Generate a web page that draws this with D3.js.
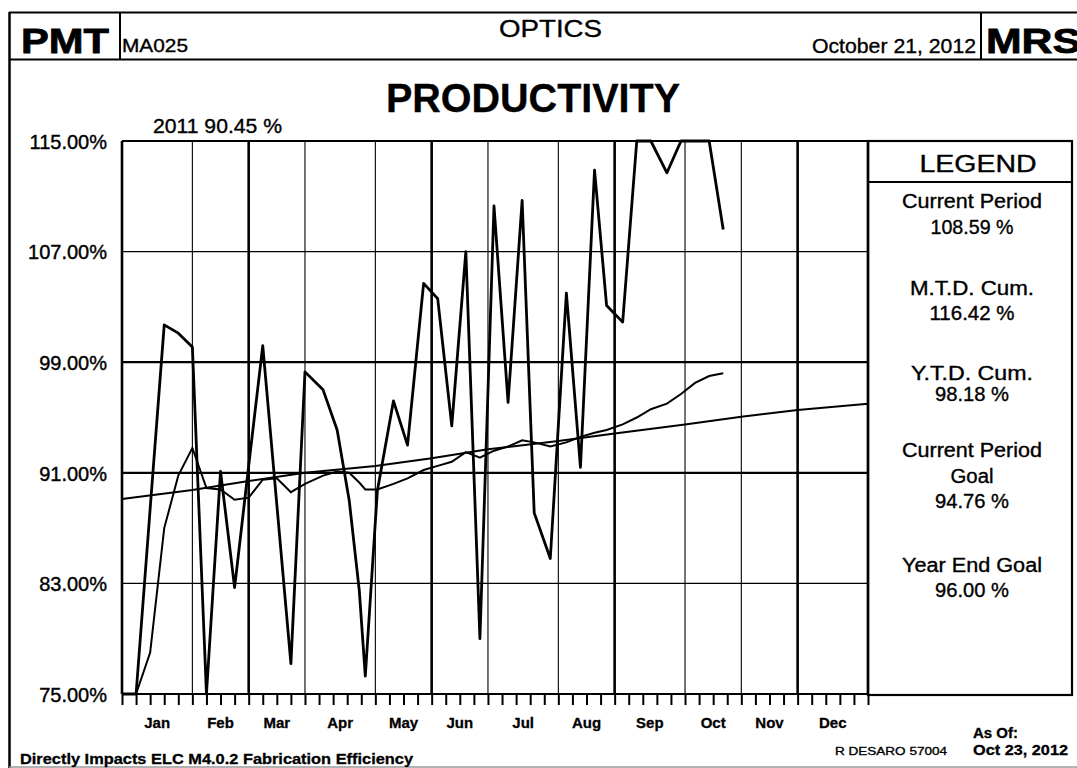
<!DOCTYPE html>
<html><head><meta charset="utf-8">
<script src="https://cdn.jsdelivr.net/npm/d3@7"></script>
<style>
body{margin:0;background:#fff}
svg{display:block}
text{font-family:"Liberation Sans",Arial,Helvetica,sans-serif;fill:#000}
</style>
</head><body>
<svg id="c" width="1077" height="768"></svg>
<script>
// ---------- DATA ----------
const monthLabels = ["Jan","Feb","Mar","Apr","May","Jun","Jul","Aug","Sep","Oct","Nov","Dec"];
// fiscal-day boundaries of each fiscal month (53 fiscal weeks)
const monthEndDays = [0,35,63,91,126,154,182,217,245,280,308,336,371];
const heavyBoundaries = [0,2,5,8,11,12];
const yTicks = [75,83,91,99,107,115];
const heavyY = [75,91,99];

// weekly actual productivity (fiscal day, %)
const actualDays = [0,7,14,21,28,35,42,49,56,63,70,77,84,91,100,107,113,118,121,127,
  135,142,150,157,164,171,178,185,192,199,205,213,221,228,235,241,249,256,263,271,
  278,285,292,299];
const actualValues = [75,75,88.4,101.7,101.1,100.1,75,91.1,82.7,91.5,
  100.2,88.7,77.2,98.3,97.0,94.1,89.0,82.5,76.3,89.7,
  96.2,93.0,104.7,103.6,94.4,107.0,79.0,110.3,96.1,110.7,
  88.1,84.8,104.0,91.4,112.9,103.1,101.9,115,115,112.7,
  115,115,115,108.6];
// year-to-date cumulative (same days)
const ytdValues = [null,75,78.0,87.0,90.8,92.8,89.9,89.8,89.05,89.2,
  90.5,90.6,89.6,90.2,90.8,91.1,91.0,90.3,89.8,89.8,
  90.2,90.6,91.2,91.5,91.8,92.5,92.1,92.6,92.9,93.35,
  93.2,92.9,93.2,93.6,93.9,94.1,94.5,95.0,95.6,96.0,
  96.7,97.5,98.0,98.2];
// goal line at month boundaries
const goalDays = [0,35,63,91,126,154,182,217,245,280,308,336,371];
const goalValues = [89.1,89.75,90.4,91.0,91.5,92.05,92.7,93.3,93.85,94.5,95.05,95.55,96.0];

const legendItems = [
  ["Current Period","108.59 %"],
  ["M.T.D. Cum.","116.42 %"],
  ["Y.T.D. Cum.","98.18 %"],
  ["Current Period","Goal","94.76 %"],
  ["Year End Goal","96.00 %"]
];

// ---------- DRAW ----------
const svg = d3.select("#c");
const x = d3.scaleLinear().domain([0,371]).range([122,868]);
const y = d3.scaleLinear().domain([75,115]).range([694,141]);

function T(str, px, py, o={}){
  const t = svg.append("text").attr("x",px).attr("y",py).text(str)
    .attr("font-size",o.size||16).attr("font-weight",o.weight||"normal")
    .attr("text-anchor",o.anchor||"start");
  if(o.len) t.attr("textLength",o.len).attr("lengthAdjust","spacingAndGlyphs");
  const sw = o.stroke!=null ? o.stroke : 0.35;
  if(sw>0) t.attr("stroke","#000").attr("stroke-width",sw);
  return t;
}
function L(x1,y1,x2,y2,w,c){
  svg.append("line").attr("x1",x1).attr("y1",y1).attr("x2",x2).attr("y2",y2)
    .attr("stroke",c||"#000").attr("stroke-width",w||1);
}

// frame & header
L(9.5,12,9.5,768,2.5);
L(9,12.5,1077,12.5,2);
L(9,59.5,1077,59.5,2);
L(120,12,120,60,2);
L(981,12,981,60,2);
L(9,767,1077,767,1.5,"#999");

T("PMT",21,53,{size:35,weight:"bold",len:88,stroke:0.8});
T("MA025",122,52,{size:18,len:66});
T("OPTICS",499,37,{size:24,len:103});
T("October 21, 2012",812,53,{size:21,len:164});
T("MRS",986,53,{size:35,weight:"bold",len:95,stroke:0.8});
T("PRODUCTIVITY",386,112,{size:40,weight:"bold",len:294,stroke:0.3});
T("2011 90.45 %",153,133,{size:20,len:129});

// horizontal grid
const g = svg.append("g");
yTicks.forEach(v=>{
  g.append("line").attr("x1",x(0)).attr("x2",x(371)).attr("y1",y(v)).attr("y2",y(v))
   .attr("stroke","#000").attr("stroke-width", heavyY.includes(v)?2.2:(v===115?1.8:1.1));
});
// vertical grid
monthEndDays.forEach((d,i)=>{
  g.append("line").attr("x1",x(d)).attr("x2",x(d)).attr("y1",y(115)).attr("y2",y(75))
   .attr("stroke","#000").attr("stroke-width", heavyBoundaries.includes(i)?2.6:1.1);
});

// y axis labels
const yAxis = d3.axisLeft(y).tickValues(yTicks).tickSize(0).tickPadding(15)
  .tickFormat(d=>d.toFixed(2)+"%");
const ya = svg.append("g").attr("transform",`translate(${x(0)},0)`).call(yAxis);
ya.select(".domain").remove();
ya.selectAll("text").attr("font-size",20).attr("font-family","Liberation Sans, Arial, sans-serif")
  .attr("fill","#000").attr("stroke","#000").attr("stroke-width",0.4).attr("dy","0.36em");

// weekly ticks
const weekDays = d3.range(0,372,7);
const xAxis = d3.axisBottom(x).tickValues(weekDays).tickSize(11).tickFormat("");
const xa = svg.append("g").attr("transform",`translate(0,${y(75)})`).call(xAxis);
xa.select(".domain").remove();
xa.selectAll("line").attr("stroke","#000").attr("stroke-width",2);

// month labels
monthLabels.forEach((m,i)=>{
  T(m,(x(monthEndDays[i])+x(monthEndDays[i+1]))/2,728,{size:15,weight:"bold",anchor:"middle",stroke:0.3});
});

// series
const actual = actualDays.map((d,i)=>({d,v:actualValues[i]}));
const ytd = actualDays.map((d,i)=>({d,v:ytdValues[i]}));
const goal = goalDays.map((d,i)=>({d,v:goalValues[i]}));
const line = d3.line().defined(p=>p.v!=null).x(p=>x(p.d)).y(p=>y(p.v));
svg.append("path").datum(goal).attr("d",line).attr("fill","none").attr("stroke","#000").attr("stroke-width",2);
svg.append("path").datum(ytd).attr("d",line).attr("fill","none").attr("stroke","#000").attr("stroke-width",2);
svg.append("path").datum(actual).attr("d",line).attr("fill","none").attr("stroke","#000")
  .attr("stroke-width",2.8).attr("stroke-linejoin","round");

// legend box
svg.append("rect").attr("x",868).attr("y",141).attr("width",204).attr("height",554)
  .attr("fill","none").attr("stroke","#000").attr("stroke-width",2.2);
L(868,182,1072,182,2);
T("LEGEND",978,172,{size:23,anchor:"middle",len:117});
const lx = 972;
const lrows = [
  [legendItems[0][0],208,140],[legendItems[0][1],234,83],
  [legendItems[1][0],295,124],[legendItems[1][1],320,85],
  [legendItems[2][0],380,122],[legendItems[2][1],401,74],
  [legendItems[3][0],457,140],[legendItems[3][1],483,43],[legendItems[3][2],508,74],
  [legendItems[4][0],572,140],[legendItems[4][1],597,74]
];
lrows.forEach(r=>T(r[0],lx,r[1],{size:19.5,anchor:"middle",len:r[2]}));

// footer
T("Directly Impacts ELC M4.0.2 Fabrication Efficiency",20,764,{size:15,weight:"bold",len:393,stroke:0.3});
T("R  DESARO  57004",835,755,{size:11.5,len:112});
T("As Of:",973,738,{size:14,weight:"bold",len:45,stroke:0.3});
T("Oct 23, 2012",973,755,{size:15,weight:"bold",len:95,stroke:0.3});
</script>
</body></html>
